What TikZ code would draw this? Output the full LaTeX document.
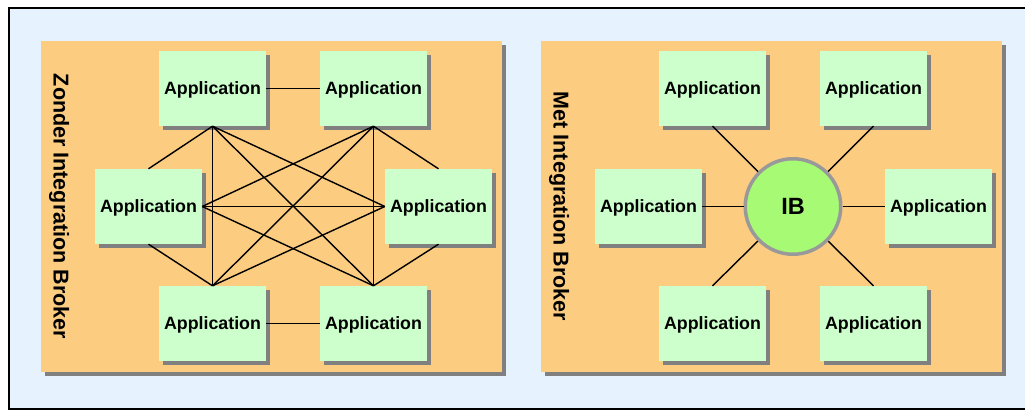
\documentclass[tikz,border=0pt]{standalone}
\usepackage{fontspec}
\setmainfont{Liberation Sans}
\usetikzlibrary{shadows}

\definecolor{skyback}{RGB}{230,243,255}
\definecolor{panelorange}{RGB}{252,204,128}
\definecolor{appgreen}{RGB}{204,255,204}
\definecolor{hubgreen}{RGB}{166,250,116}
\definecolor{hubrim}{RGB}{153,153,153}
\definecolor{shadowgray}{RGB}{128,128,128}

\tikzset{
  boxshadow/.style={drop shadow={shadow xshift=4pt, shadow yshift=-4pt,
      fill=shadowgray, opacity=1}},
  panel/.style={rectangle, fill=panelorange, inner sep=0pt,
      minimum width=461pt, minimum height=331pt, boxshadow},
  app/.style={rectangle, fill=appgreen, inner sep=0pt, text depth=0pt,
      minimum width=107pt, minimum height=75pt, boxshadow,
      font=\fontsize{17.8}{20}\selectfont\bfseries},
  hub/.style={circle, fill=hubgreen, draw=hubrim, line width=3.5pt,
      inner sep=0pt, minimum size=95.5pt, text depth=0pt,
      font=\fontsize{23.5}{26}\selectfont\bfseries},
  sidelabel/.style={rotate=-90, anchor=base, inner sep=0pt,
      font=\fontsize{21.5}{24}\selectfont\bfseries},
  link/.style={draw=black, line width=1.4pt}
}

\begin{document}
\begin{tikzpicture}[x=1pt, y=-1pt]
  \useasboundingbox (0,0) rectangle (1025,410);
  \clip (0,0) rectangle (1025,410);

  % outer frame
  \draw[fill=skyback, line width=2pt] (9,8) rectangle (1040,409);

  % the two panels
  \node[panel] (leftpanel)  at (271.5,206.5) {};
  \node[panel] (rightpanel) at (771.5,206.5) {};

  \node[sidelabel] (lefttitle)  at (53.5,206.5)  {Zonder Integration Broker};
  \node[sidelabel] (righttitle) at (553.5,206.5) {Met Integration Broker};

  % left panel: every application linked to every other one
  \node[app] (tl) at (212.5,88.5)  {Application};
  \node[app] (tr) at (373.5,88.5)  {Application};
  \node[app] (ml) at (148.5,206.5) {Application};
  \node[app] (mr) at (438.5,206.5) {Application};
  \node[app] (bl) at (212.5,323.5) {Application};
  \node[app] (br) at (373.5,323.5) {Application};

  \draw[link] (tl.east) -- (tr.west);
  \draw[link] (bl.east) -- (br.west);
  \draw[link] (ml.east) -- (mr.west);
  \draw[link] (tl.south) -- (ml.north);
  \draw[link] (tl.south) -- (bl.north);
  \draw[link] (tl.south) -- (mr.west);
  \draw[link] (tl.south) -- (br.north);
  \draw[link] (tr.south) -- (mr.north);
  \draw[link] (tr.south) -- (br.north);
  \draw[link] (tr.south) -- (ml.east);
  \draw[link] (tr.south) -- (bl.north);
  \draw[link] (ml.south) -- (bl.north);
  \draw[link] (ml.east) -- (br.north);
  \draw[link] (mr.west) -- (bl.north);
  \draw[link] (mr.south) -- (br.north);

  % right panel: applications around the integration broker
  \node[app] (rtl) at (712.5,88.5)  {Application};
  \node[app] (rtr) at (873.5,88.5)  {Application};
  \node[app] (rml) at (648.5,206.5) {Application};
  \node[app] (rmr) at (938.5,206.5) {Application};
  \node[app] (rbl) at (712.5,323.5) {Application};
  \node[app] (rbr) at (873.5,323.5) {Application};

  \node[hub] (ib) at (793,206.5) {IB};

  \draw[link] (rtl.south) -- (ib);
  \draw[link] (rtr.south) -- (ib);
  \draw[link] (rml.east)  -- (ib);
  \draw[link] (rmr.west)  -- (ib);
  \draw[link] (rbl.north) -- (ib);
  \draw[link] (rbr.north) -- (ib);
\end{tikzpicture}
\end{document}
